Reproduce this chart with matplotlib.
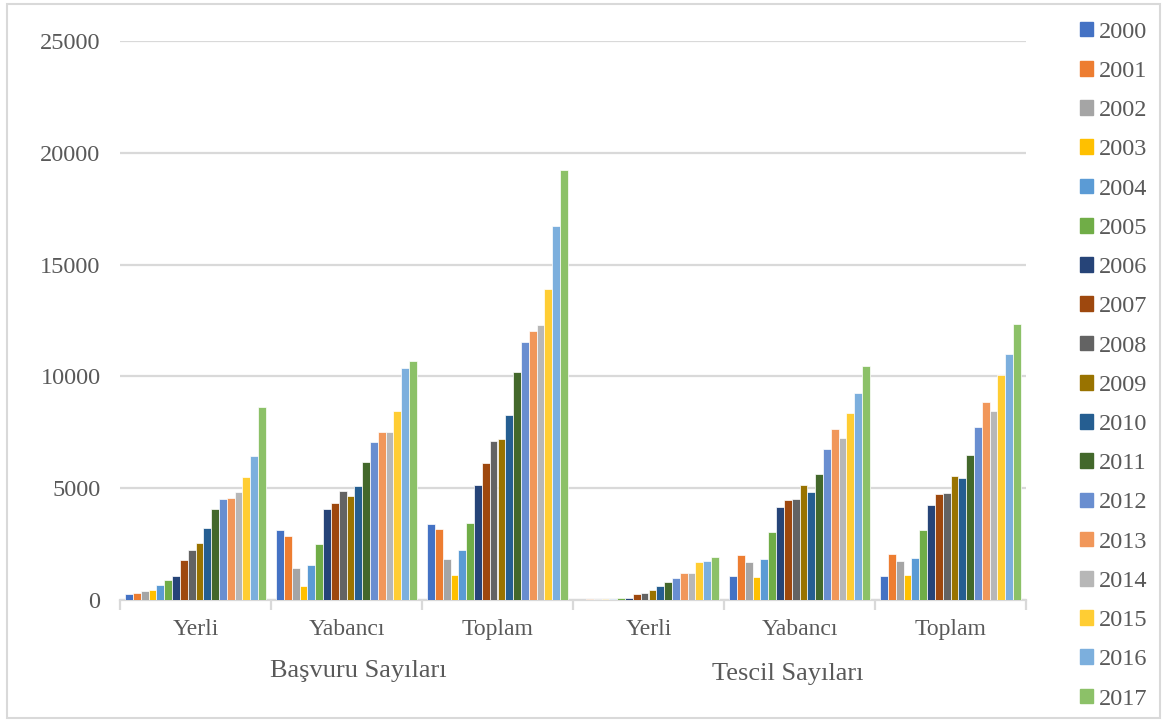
import matplotlib
matplotlib.use("Agg")
import matplotlib.pyplot as plt
import matplotlib.patches as mpatches
from matplotlib.font_manager import FontProperties
from matplotlib.transforms import blended_transform_factory
import numpy as np

# Patent applications (Başvuru) and grants (Tescil), domestic / foreign / total, 2000-2017
years = [str(y) for y in range(2000, 2018)]
categories = ["Yerli", "Yabancı", "Toplam", "Yerli", "Yabancı", "Toplam"]
groups = ["Başvuru Sayıları", "Tescil Sayıları"]

basvuru_yerli = [270, 330, 390, 465, 670, 910, 1060, 1805, 2255, 2570, 3240, 4075,
                 4535, 4540, 4850, 5505, 6430, 8625]
basvuru_yabanci = [3130, 2860, 1440, 645, 1560, 2500, 4070, 4340, 4865, 4640, 5090, 6155,
                   7050, 7530, 7515, 8460, 10360, 10675]
basvuru_toplam = [3395, 3170, 1845, 1115, 2230, 3425, 5135, 6145, 7100, 7205, 8290, 10195,
                  11550, 12010, 12320, 13915, 16725, 19230]
tescil_yerli = [15, 55, 55, 55, 55, 70, 100, 285, 315, 435, 625, 820,
                1000, 1210, 1210, 1700, 1760, 1940]
tescil_yabanci = [1075, 2015, 1690, 1045, 1835, 3045, 4165, 4450, 4505, 5135, 4835, 5655,
                  6760, 7655, 7255, 8360, 9255, 10450]
tescil_toplam = [1085, 2055, 1740, 1130, 1890, 3110, 4270, 4730, 4805, 5565, 5460, 6490,
                 7755, 8870, 8465, 10045, 11010, 12350]

series_by_category = [basvuru_yerli, basvuru_yabanci, basvuru_toplam,
                      tescil_yerli, tescil_yabanci, tescil_toplam]

colors = ["#4472C4", "#ED7D31", "#A5A5A5", "#FFC000", "#5B9BD5", "#70AD47",
          "#264478", "#9E480E", "#636363", "#997300", "#255E91", "#43682B",
          "#698ED0", "#F1975A", "#B7B7B7", "#FFCD33", "#7CAFDD", "#8CC168"]

text_color = "#595959"
grid_color = "#D9D9D9"
serif = ["Liberation Serif", "DejaVu Serif"]
plt.rcParams["font.family"] = serif

W, H = 1165, 720
fig = plt.figure(figsize=(W / 100, H / 100), dpi=100)
ax = fig.add_axes([120 / W, 1 - 600 / H, (1026 - 120) / W, (600 - 41) / H])

data = np.array(series_by_category)  # shape (6 categories, 18 years)
n_years = len(years)
pitch = 0.0517
bar_w = pitch
x_centers = np.arange(len(categories)) + 0.5
for j, year in enumerate(years):
    offs = (j - (n_years - 1) / 2) * pitch
    ax.bar(x_centers + offs, data[:, j], width=bar_w, color=colors[j],
           edgecolor="white", linewidth=0.5, zorder=3, label=year)

ax.set_xlim(0, len(categories))
ax.set_ylim(0, 25000)
ax.set_yticks(np.arange(0, 25001, 5000))
ax.yaxis.grid(True, color=grid_color, linewidth=1.6, zorder=0)
ax.set_axisbelow(True)
for side in ("top", "right", "left"):
    ax.spines[side].set_visible(False)
ax.spines["bottom"].set_color(grid_color)
ax.spines["bottom"].set_linewidth(1.6)
ax.tick_params(axis="y", length=0, pad=14, labelsize=17.5, labelcolor=text_color)

ax.set_xticks(x_centers)
ax.set_xticklabels(categories)
ax.set_xticks(np.arange(0, len(categories) + 1), minor=True)
ax.tick_params(axis="x", which="major", length=0, pad=14, labelsize=17,
               labelcolor=text_color)
ax.tick_params(axis="x", which="minor", length=7, width=1.6, color=grid_color)

trans = blended_transform_factory(ax.transData, ax.transAxes)
ax.text(1.5 + 0.08, -0.127, groups[0], transform=trans, ha="center", va="center",
        fontsize=19, color=text_color)
ax.text(4.5 - 0.08, -0.132, groups[1], transform=trans, ha="center", va="center",
        fontsize=19, color=text_color)

handles = [mpatches.Patch(color=c) for c in colors]
leg = fig.legend(handles, years, loc="upper left", bbox_to_anchor=(1070 / W, 1 - 12 / H),
                 frameon=False, prop=FontProperties(family=serif, size=17.5),
                 handlelength=0.55, handleheight=0.55,
                 handletextpad=0.25, labelspacing=0.75, borderaxespad=0)
for t in leg.get_texts():
    t.set_color(text_color)

# outer chart frame
fig.patches.append(mpatches.Rectangle((7 / W, 2 / H), 1 - 12 / W, 1 - 6 / H,
                                      transform=fig.transFigure, fill=False,
                                      edgecolor=grid_color, linewidth=1.5))

fig.savefig("out.png", dpi=100)
